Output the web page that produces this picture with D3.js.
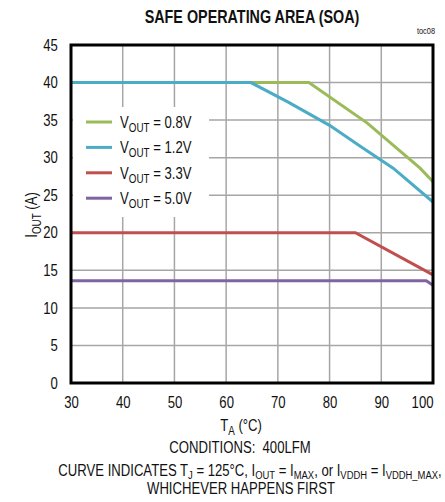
<!DOCTYPE html>
<html><head><meta charset="utf-8">
<script src="https://cdn.jsdelivr.net/npm/d3@7"></script>
<style>body{margin:0;background:#fff}svg{display:block}text{font-family:"Liberation Sans",Arial,sans-serif;fill:#111}</style>
</head><body><svg id="c" width="445" height="502"></svg>
<script>
const xTicks = [30,40,50,60,70,80,90,100];
const yTicks = [0,5,10,15,20,25,30,35,40,45];
const seriesNames = ["0.8V","1.2V","3.3V","5.0V"];
const seriesColors = ["#9BBB59","#4BACC6","#C0504D","#8064A2"];
const v08 = [[30,40],[76,40],[87.3,34.6],[97.5,28.6],[100,26.8]];
const v12 = [[30,40],[64.8,40],[72,37.4],[80,34.3],[86,31.5],[92.3,28.6],[100,24.1]];
const v33 = [[30,20],[85,20],[100,14.4]];
const v50 = [[30,13.6],[98.7,13.6],[100,13.0]];
const series = [v08,v12,v33,v50];

const SX = 0.82; // condensed look
const svg = d3.select("#c");
const L=71,R=433,T=45,B=383;
const x = d3.scaleLinear().domain([30,100]).range([L,R]);
const y = d3.scaleLinear().domain([0,45]).range([B,T]);

function txt(px,py,size,anchor,rot){
  const gg = svg.append("g").attr("transform",`translate(${px},${py})${rot?` rotate(${rot})`:""} scale(${SX},1)`);
  return gg.append("text").attr("text-anchor",anchor||"middle").attr("font-size",size);
}
function rich(t,parts,sz,off){
  sz=sz||12; off=off||4;
  let prev=0;
  parts.forEach(([s,sub])=>{
    const ts=t.append("tspan").text(s);
    if(sub){ts.attr("font-size",sz).attr("dy",prev?0:off);} else {ts.attr("dy",prev?-off:0);}
    prev=sub;
  });
}

// grid
const g = svg.append("g");
g.selectAll(".vx").data(xTicks.slice(1,-1)).join("line")
  .attr("x1",d=>x(d)).attr("x2",d=>x(d)).attr("y1",T).attr("y2",B)
  .attr("stroke","#a6a6a6").attr("stroke-width",1.5);
g.selectAll(".hy").data(yTicks.slice(1,-1)).join("line")
  .attr("y1",d=>y(d)).attr("y2",d=>y(d)).attr("x1",L).attr("x2",R)
  .attr("stroke","#a6a6a6").attr("stroke-width",1.5);

// legend background
svg.append("rect").attr("x",L+2).attr("y",107).attr("width",136).attr("height",110).attr("fill","#fff");

// lines
const line = d3.line().x(d=>x(d[0])).y(d=>y(d[1]));
svg.selectAll(".s").data(series).join("path")
  .attr("d",line).attr("fill","none")
  .attr("stroke",(d,i)=>seriesColors[i]).attr("stroke-width",3);

// frame
svg.append("rect").attr("x",L).attr("y",T).attr("width",R-L).attr("height",B-T)
  .attr("fill","none").attr("stroke","#000").attr("stroke-width",3);

// axes labels
const xAxis = d3.axisBottom(x).tickValues(xTicks).tickSize(0).tickPadding(14);
const ax = svg.append("g").attr("transform",`translate(0,${B})`).call(xAxis);
ax.select(".domain").remove();
ax.selectAll("text").attr("font-size",16).style("font-family",'"Liberation Sans",sans-serif').attr("fill","#111").attr("transform",`scale(${SX},1)`)
  .attr("text-anchor",d=>d===100?"end":"middle");
const yAxis = d3.axisLeft(y).tickValues(yTicks).tickSize(0).tickPadding(16);
const ay = svg.append("g").attr("transform",`translate(${L},0)`).call(yAxis);
ay.select(".domain").remove();
ay.selectAll("text").attr("font-size",16).style("font-family",'"Liberation Sans",sans-serif').attr("fill","#111").attr("transform",`scale(${SX},1)`);

// title
txt(252,23,17.5).attr("font-weight","bold").text("SAFE OPERATING AREA (SOA)");
txt(435,34,9,"end").text("toc08");

// legend
seriesNames.forEach((nm,i)=>{
  const yy = 122+i*25.4;
  svg.append("line").attr("x1",86).attr("x2",112).attr("y1",yy).attr("y2",yy)
    .attr("stroke",seriesColors[i]).attr("stroke-width",3);
  rich(txt(120,yy+6,16,"start"),[["V",0],["OUT",1],[" = "+nm,0]]);
});

// y label
rich(txt(37,215,16,"middle",-90),[["I",0],["OUT",1],[" (A)",0]]);

// x label
rich(txt(241,431,16),[["T",0],["A",1],[" (°C)",0]]);

txt(240,453,16).attr("xml:space","preserve").text("CONDITIONS:  400LFM");

rich(txt(250,476,16),[["CURVE INDICATES T",0],["J",1],[" = 125°C, I",0],["OUT",1],[" = I",0],["MAX",1],[", or I",0],["VDDH",1],[" = I",0],["VDDH_MAX",1],[",",0]],11.5,3);
txt(241,494,16).text("WHICHEVER HAPPENS FIRST");
</script></body></html>
